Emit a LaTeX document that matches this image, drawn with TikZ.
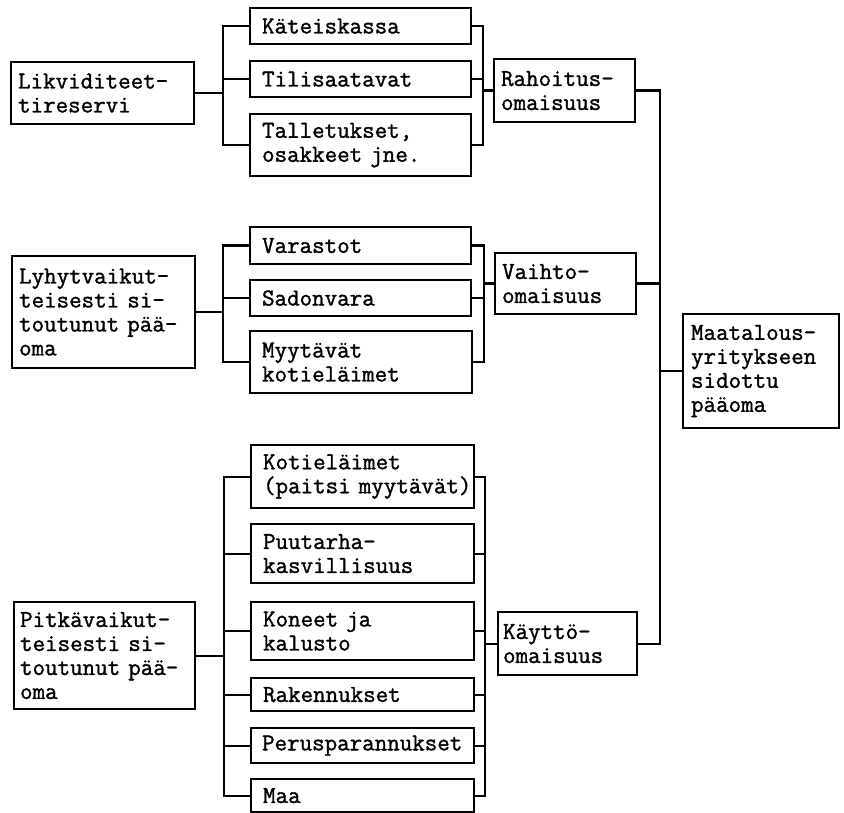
\documentclass[tikz,border=0pt]{standalone}
\usepackage{fontspec}
\newfontfamily\twfont[FakeBold=1.4]{Latin Modern Mono}
\newcommand\bx[7]{%
  \pgfmathsetmacro\bxw{#4-#2}%
  \pgfmathsetmacro\bxh{#5-#3}%
  \pgfmathsetmacro\bxt{#4-#2-2*#6}%
  \node[box, minimum width=\bxw pt, minimum height=\bxh pt, text width=\bxt pt, inner xsep=#6pt] (#1) at (#2,#3) {#7};}
\begin{document}
\begin{tikzpicture}[x=1pt,y=-1pt, line width=2.2pt,
  box/.style={draw, rectangle, line width=2.2pt, inner ysep=0pt, align=left, anchor=north west,
    font=\twfont\fontsize{24.3pt}{24pt}\selectfont},
  link/.style={draw, line width=2.2pt}]
\useasboundingbox (0,0) rectangle (844,813);
% left column
\bx{L1}{10}{61}{193}{123}{7}{Likviditeet-\\tireservi}
\bx{L2}{11}{255}{194}{367}{7}{Lyhytvaikut-\\teisesti si-\\toutunut pää-\\oma}
\bx{L3}{13}{601}{194}{708}{6}{Pitkävaikut-\\teisesti si-\\toutunut pää-\\oma}
% middle column
\bx{M1}{249}{7}{470}{43}{12}{Käteiskassa}
\bx{M2}{249}{60}{470}{96}{12}{Tilisaatavat}
\bx{M3}{249}{113}{470}{175}{12}{Talletukset,\\osakkeet jne.}
\bx{M4}{249}{226}{470}{263}{12}{Varastot}
\bx{M5}{249}{279}{470}{315}{12}{Sadonvara}
\bx{M6}{249}{330}{471}{392}{12}{Myytävät\\kotieläimet}
\bx{M7}{250}{444}{473}{507}{12}{Kotieläimet\\\mbox{(paitsi myytävät)}}
\bx{M8}{250}{523}{473}{582}{12}{Puutarha-\\kasvillisuus}
\bx{M9}{250}{601}{473}{659}{12}{Koneet ja\\kalusto}
\bx{M10}{250}{677}{473}{710}{12}{Rakennukset}
\bx{M11}{250}{727}{473}{762}{11}{\mbox{Perusparannukset}}
\bx{M12}{250}{778}{473}{811}{12}{Maa}
% right column
\bx{R1}{493}{58}{634}{121}{7}{Rahoitus-\\omaisuus}
\bx{R2}{494}{252}{635}{313}{7}{Vaihto-\\omaisuus}
\bx{R3}{497}{611}{636}{674}{5}{Käyttö-\\omaisuus}
\bx{T}{682}{313}{838}{427}{8}{Maatalous-\\yritykseen\\sidottu\\pääoma}
% buses
\coordinate (b1) at (223,0);
\coordinate (r1) at (483,0);
\coordinate (b2) at (223,0);
\coordinate (r2) at (484,0);
\coordinate (b3) at (224,0);
\coordinate (r3) at (485,0);
\coordinate (mb) at (660,0);
% group 1
\path[link] (L1.east) -- (L1.east -| b1);
\path[link] (M1.west) -- (M1.west -| b1) -- (M3.west -| b1) -- (M3.west);
\path[link] (M2.west) -- (M2.west -| b1);
\path[link] (M1.east) -- (M1.east -| r1) -- (M3.east -| r1) -- (M3.east);
\path[link] (M2.east) -- (M2.east -| r1);
\path[link] (R1.west) -- (R1.west -| r1);
% group 2
\path[link] (L2.east) -- (L2.east -| b2);
\path[link] (M4.west) -- (M4.west -| b2) -- (M6.west -| b2) -- (M6.west);
\path[link] (M5.west) -- (M5.west -| b2);
\path[link] (M4.east) -- (M4.east -| r2) -- (M6.east -| r2) -- (M6.east);
\path[link] (M5.east) -- (M5.east -| r2);
\path[link] (R2.west) -- (R2.west -| r2);
% group 3
\path[link] (L3.east) -- (L3.east -| b3);
\path[link] (M7.west) -- (M7.west -| b3) -- (M12.west -| b3) -- (M12.west);
\path[link] (M8.west) -- (M8.west -| b3);
\path[link] (M9.west) -- (M9.west -| b3);
\path[link] (M10.west) -- (M10.west -| b3);
\path[link] (M11.west) -- (M11.west -| b3);
\path[link] (M7.east) -- (M7.east -| r3) -- (M12.east -| r3) -- (M12.east);
\path[link] (M8.east) -- (M8.east -| r3);
\path[link] (M9.east) -- (M9.east -| r3);
\path[link] (M10.east) -- (M10.east -| r3);
\path[link] (M11.east) -- (M11.east -| r3);
\path[link] (R3.west) -- (R3.west -| r3);
% main bus
\path[link] (R1.east) -- (R1.east -| mb) -- (R3.east -| mb) -- (R3.east);
\path[link] (R2.east) -- (R2.east -| mb);
\path[link] (T.west) -- (T.west -| mb);
\end{tikzpicture}
\end{document}
